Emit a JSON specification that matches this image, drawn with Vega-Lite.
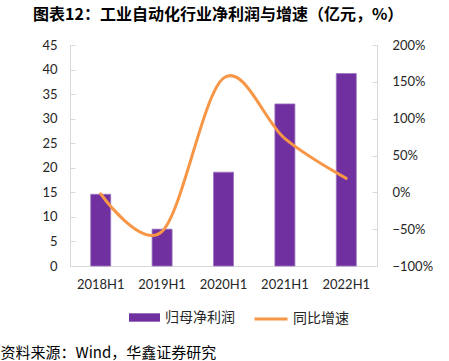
{
  "$schema": "https://vega.github.io/schema/vega-lite/v6.json",
  "width": 307,
  "height": 221,
  "autosize": {"type": "none"},
  "padding": {"left": 70, "top": 45, "right": 72, "bottom": 95},
  "background": "white",
  "config": {
    "view": {"stroke": null},
    "font": "Lato",
    "axis": {"labelFont": "Lato", "labelFontSize": 13, "labelColor": "#262626", "domainColor": "#D9D9D9", "tickColor": "#D9D9D9", "grid": false}
  },
  "title": {
    "text": "图表12：工业自动化行业净利润与增速（亿元，%）",
    "anchor": "start",
    "frame": "group",
    "font": "Noto Sans CJK SC",
    "fontWeight": "bold",
    "fontSize": 16,
    "color": "#000000",
    "dx": -37,
    "offset": 16
  },
  "data": {
    "values": [
      {"period": "2018H1", "profit": 14.6, "growth": -0.02},
      {"period": "2019H1", "profit": 7.5, "growth": -0.53},
      {"period": "2020H1", "profit": 19.1, "growth": 1.55},
      {"period": "2021H1", "profit": 33.0, "growth": 0.73},
      {"period": "2022H1", "profit": 39.2, "growth": 0.19}
    ]
  },
  "encoding": {
    "x": {
      "field": "period",
      "type": "nominal",
      "sort": null,
      "scale": {"paddingInner": 0, "paddingOuter": 0},
      "axis": {
        "labelAngle": 0,
        "ticks": false,
        "labelPadding": 12,
        "title": "资料来源：Wind，华鑫证券研究",
        "titleFont": "Noto Sans CJK SC",
        "titleFontWeight": "normal",
        "titleFontSize": 15,
        "titleColor": "#000000",
        "titleAnchor": "start",
        "titleAlign": "left",
        "titleBaseline": "middle",
        "titleX": -70,
        "titleY": 86
      }
    }
  },
  "layer": [
    {
      "mark": {"type": "bar", "size": 20, "stroke": "#9B75C0", "strokeWidth": 0.8},
      "encoding": {
        "y": {
          "field": "profit",
          "type": "quantitative",
          "scale": {"domain": [0, 45], "nice": false},
          "axis": {"title": null, "values": [0, 5, 10, 15, 20, 25, 30, 35, 40, 45], "tickSize": -5, "labelPadding": 18, "orient": "left"}
        },
        "fill": {
          "datum": "归母净利润",
          "scale": {"domain": ["归母净利润"], "range": ["#7030A0"]},
          "legend": {
            "title": null,
            "orient": "none",
            "legendX": 59,
            "legendY": 257,
            "padding": 0,
            "symbolType": "M-1,-0.27H1V0.27H-1Z",
            "symbolSize": 961,
            "symbolStrokeWidth": 0,
            "labelFont": "Noto Sans CJK SC",
            "labelFontSize": 14,
            "labelColor": "#262626",
            "labelOffset": 5
          }
        }
      }
    },
    {
      "mark": {"type": "line", "interpolate": "cardinal", "strokeWidth": 3, "strokeCap": "round"},
      "encoding": {
        "y": {
          "field": "growth",
          "type": "quantitative",
          "scale": {"domain": [-1, 2], "nice": false},
          "axis": {"title": null, "values": [-1, -0.5, 0, 0.5, 1, 1.5, 2], "format": ".0%", "tickSize": -5, "labelPadding": 20, "orient": "right"}
        },
        "stroke": {
          "datum": "同比增速",
          "scale": {"domain": ["同比增速"], "range": ["#F79646"]},
          "legend": {
            "title": null,
            "orient": "none",
            "legendX": 183,
            "legendY": 256,
            "padding": 0,
            "symbolType": "stroke",
            "symbolSize": 1089,
            "symbolStrokeWidth": 3,
            "labelFont": "Noto Sans CJK SC",
            "labelFontSize": 14,
            "labelColor": "#262626",
            "labelOffset": 4
          }
        }
      }
    }
  ],
  "resolve": {"scale": {"y": "independent"}}
}
